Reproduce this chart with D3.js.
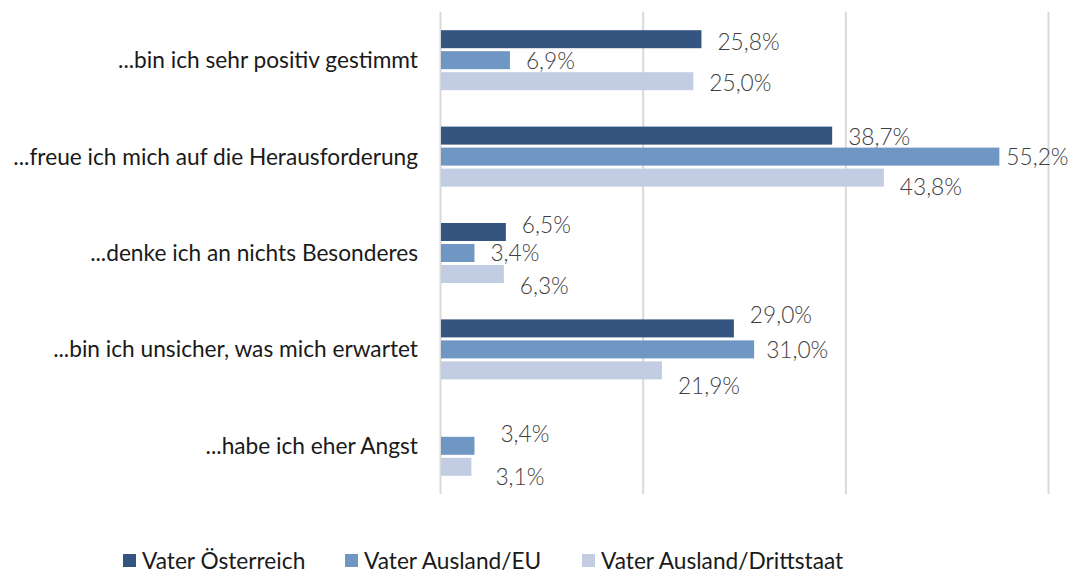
<!DOCTYPE html>
<html>
<head>
<meta charset="utf-8">
<script src="https://cdn.jsdelivr.net/npm/d3@7"></script>
<style>
  body { margin: 0; background: #fff; }
  svg text { font-family: "Lato", "Open Sans", sans-serif; }
</style>
</head>
<body>
<svg id="chart" width="1077" height="573"></svg>
<script>
// daten
const kategorien = [
  "...bin ich sehr positiv gestimmt",
  "...freue ich mich auf die Herausforderung",
  "...denke ich an nichts Besonderes",
  "...bin ich unsicher, was mich erwartet",
  "...habe ich eher Angst"
];
const serien = ["Vater Österreich", "Vater Ausland/EU", "Vater Ausland/Drittstaat"];
const oesterreich = [25.8, 38.7, 6.5, 29.0, null];
const auslandEU = [6.9, 55.2, 3.4, 31.0, 3.4];
const drittstaat = [25.0, 43.8, 6.3, 21.9, 3.1];
const farben = ["#34557f", "#7096c3", "#c2cde3"];
const xTicks = [0, 20, 40, 60];

// label verschiebung (excel schiebt die labels auseinander)
const labelNudge = [
  [[0, 3], [0, 1], [0, 2]],
  [[0, 1], [-9, 0], [0, 9]],
  [[0, -7], [0, 0], [0, 12]],
  [[0, -13], [-4, 1], [0, 16]],
  [[0, 0], [10, -12], [8, 10]]
];

const werte = [oesterreich, auslandEU, drittstaat];
const fs = 22.7;

const svg = d3.select("#chart");

const x = d3.scaleLinear().domain([0, 60]).range([440, 1048]);
const y = d3.scaleBand().domain(kategorien).range([12, 494]);

// gitterlinien
svg.append("g")
  .selectAll("line")
  .data(xTicks)
  .join("line")
  .attr("x1", d => x(d) + 0.5)
  .attr("x2", d => x(d) + 0.5)
  .attr("y1", 12)
  .attr("y2", 494)
  .attr("stroke", "#d9d9d9")
  .attr("stroke-width", 2);

const barH = 18, gap = 3;
const gruppeH = barH * 3 + gap * 2;

const gruppe = svg.append("g")
  .selectAll("g")
  .data(kategorien)
  .join("g")
  .attr("transform", d => `translate(0,${y(d) + y.bandwidth() / 2 - gruppeH / 2})`);

gruppe.each(function (kat, i) {
  const g = d3.select(this);
  werte.forEach((serie, s) => {
    const v = serie[i];
    if (v == null) return;
    const yy = s * (barH + gap);
    g.append("rect")
      .attr("x", x(0) + 1)
      .attr("y", yy)
      .attr("width", x(v) - x(0) - 1)
      .attr("height", barH)
      .attr("fill", farben[s]);
    const n = labelNudge[i][s];
    g.append("text")
      .attr("x", x(v) + 16 + n[0])
      .attr("y", yy + barH / 2 + n[1])
      .attr("dy", "0.35em")
      .attr("font-size", fs)
      .attr("font-weight", 300)
      .attr("fill", "#404040")
      .text(d3.format(".1f")(v).replace(".", ",") + "%");
  });
});

// kategorien
svg.append("g")
  .selectAll("text")
  .data(kategorien)
  .join("text")
  .attr("x", 418)
  .attr("y", d => y(d) + y.bandwidth() / 2)
  .attr("dy", "0.35em")
  .attr("text-anchor", "end")
  .attr("font-size", fs)
  .attr("fill", "#1a1a1a")
  .text(d => d);

// legende
const legX = [123, 345, 582];
const leg = svg.append("g")
  .selectAll("g")
  .data(serien)
  .join("g")
  .attr("transform", (d, i) => `translate(${legX[i]},554)`);
leg.append("rect").attr("width", 13).attr("height", 13).attr("fill", (d, i) => farben[i]);
leg.append("text")
  .attr("x", 19)
  .attr("y", 7)
  .attr("dy", "0.35em")
  .attr("font-size", fs)
  .attr("fill", "#1a1a1a")
  .text(d => d);
</script>
</body>
</html>
